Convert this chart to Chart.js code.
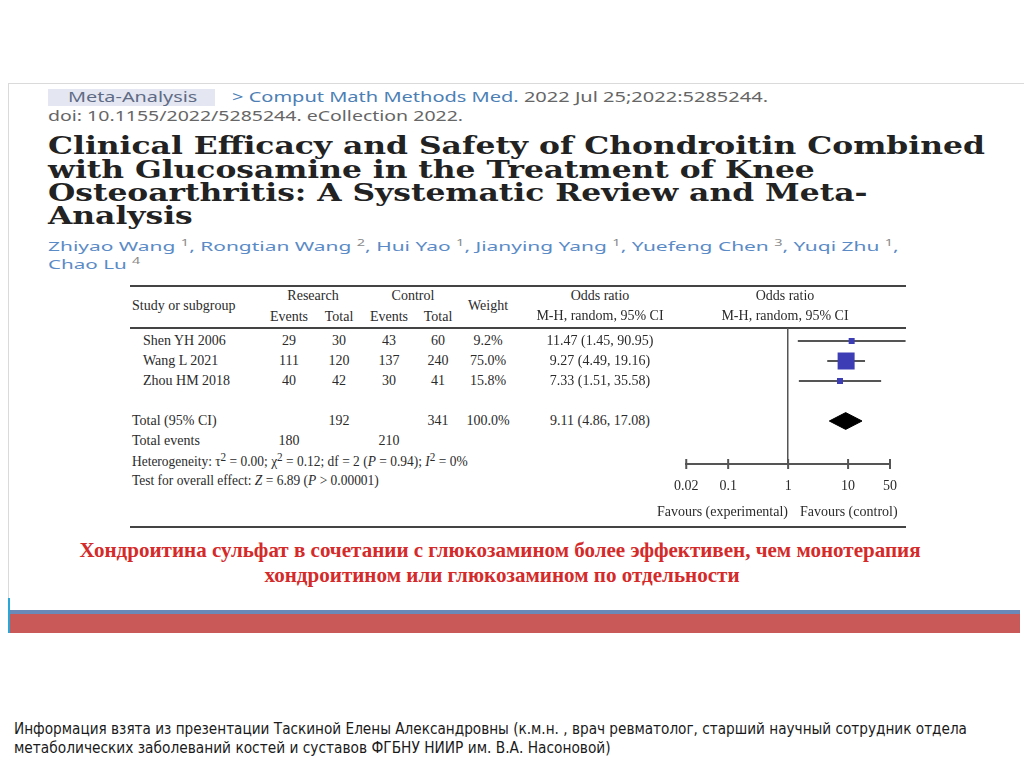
<!DOCTYPE html>
<html>
<head>
<meta charset="utf-8">
<script src="https://cdn.jsdelivr.net/npm/chart.js@4.4.1/dist/chart.umd.min.js"></script>
<style>
  body { margin: 0; width: 1024px; height: 767px; background: #fff; position: relative; overflow: hidden; }
  .t { position: absolute; white-space: nowrap; line-height: 1.2; }
  .tbl { font-family: "Liberation Serif", "Times New Roman", serif; font-size: 14px; color: #2b2b2b; }
  .rule { position: absolute; left: 130px; width: 776px; background: #444; }
  .sans { font-family: "Noto Sans", "Open Sans", sans-serif; font-size: 14px; }
  .title { font-family: "DejaVu Serif", serif; font-weight: bold; font-size: 24px; line-height: 0.85; color: #222; }
  .auth { color: #5b8bc6; font-size: 13px; }
  .auth sup { color: #8a8a8a; font-size: 9px; }
  .red { font-family: "Liberation Serif", serif; font-weight: bold; font-size: 22px; line-height: 1; color: #d42a2a; }
  .foot { font-family: "Liberation Sans Narrow", "DejaVu Sans Condensed", sans-serif; font-size: 16px; line-height: 1.1; color: #1a1a1a; }
  #wrap { position: absolute; left: 660px; top: 280px; width: 260px; height: 250px; }
</style>
</head>
<body>
<!-- slide frame and decorations -->
<div style="position:absolute;left:8px;top:83px;width:1016px;height:528px;border-top:1px solid #dadada;border-left:1px solid #dadada;"></div>
<div style="position:absolute;left:48px;top:89px;width:167px;height:17px;background:#e4e7f2;"></div>
<div style="position:absolute;left:10px;top:610px;width:1010px;height:4px;background:#6b89b8;"></div>
<div style="position:absolute;left:10px;top:614px;width:1010px;height:19px;background:#c95858;"></div>
<div style="position:absolute;left:8px;top:598px;width:2px;height:35px;background:#2aa7d9;"></div>

<div class="rule" style="top:285px;height:2px;"></div>
<div class="rule" style="top:327px;height:1.5px;"></div>
<div class="rule" style="top:526px;height:2px;"></div>

<div id="wrap"><canvas id="forest" width="260" height="250"></canvas></div>

<script>
// study data
const studies = ['Shen YH 2006', 'Wang L 2021', 'Zhou HM 2018'];
const resEvents = [29, 111, 40];
const resTotal = [30, 120, 42];
const ctrlEvents = [43, 137, 30];
const ctrlTotal = [60, 240, 41];
const weights = [9.2, 75.0, 15.8];
const orEst = [11.47, 9.27, 7.33];
const orLow = [1.45, 4.49, 1.51];
const orHigh = [90.95, 19.16, 35.58];
// pooled result: estimate, lower, upper
const pooled = [9.11, 4.86, 17.08];
const xTicks = [0.02, 0.1, 1, 10, 50];

const sum = a => a.reduce((s, v) => s + v, 0);
const ci = (e, l, h) => `${e.toFixed(2)} (${l.toFixed(2)}, ${h.toFixed(2)})`;

function put(html, x, y, cls, align) {
  const d = document.createElement('div');
  d.className = 't ' + cls;
  d.innerHTML = html;
  d.style.left = x + 'px';
  d.style.top = y + 'px';
  const tx = align === 'c' ? '-50%' : align === 'r' ? '-100%' : '0';
  d.style.transform = `translate(${tx}, -50%)`;
  d.style.transformOrigin = align === 'c' ? 'center' : 'left center';
  document.body.appendChild(d);
  return d;
}

// squeeze/stretch text to the width it has in the slide
function fit(el, w) {
  const nat = el.offsetWidth;
  el.style.transform += ` scaleX(${w / nat})`;
  return el;
}

// header of the slide
fit(put('Meta-Analysis', 68, 97, 'sans', 'l'), 129).style.color = '#5f6b85';
fit(put('<span style="color:#4d7fb5">&gt; Comput Math Methods Med.</span> <span style="color:#666">2022 Jul 25;2022:5285244.</span>', 232, 97, 'sans', 'l'), 536);
fit(put('doi: 10.1155/2022/5285244. eCollection 2022.', 48, 116, 'sans', 'l'), 415).style.color = '#666';

const titleLines = [
  ['Clinical Efficacy and Safety of Chondroitin Combined', 146, 937],
  ['with Glucosamine in the Treatment of Knee', 170, 767],
  ['Osteoarthritis: A Systematic Review and Meta-', 193, 820],
  ['Analysis', 216, 145]
];
titleLines.forEach(([s, y, w]) => fit(put(s, 48, y, 'title', 'l'), w));

fit(put('Zhiyao Wang <sup>1</sup>, Rongtian Wang <sup>2</sup>, Hui Yao <sup>1</sup>, Jianying Yang <sup>1</sup>, Yuefeng Chen <sup>3</sup>, Yuqi Zhu <sup>1</sup>,', 48, 246, 'sans auth', 'l'), 850);
fit(put('Chao Lu <sup>4</sup>', 48, 264, 'sans auth', 'l'), 92);

// table header
put('Study or subgroup', 132, 306, 'tbl', 'l');
put('Research', 313, 296, 'tbl', 'c');
put('Control', 413, 296, 'tbl', 'c');
put('Events', 289, 317, 'tbl', 'c');
put('Total', 339, 317, 'tbl', 'c');
put('Events', 389, 317, 'tbl', 'c');
put('Total', 438, 317, 'tbl', 'c');
put('Weight', 488, 306, 'tbl', 'c');
put('Odds ratio', 600, 296, 'tbl', 'c');
put('M-H, random, 95% CI', 600, 316, 'tbl', 'c');
put('Odds ratio', 785, 296, 'tbl', 'c');
put('M-H, random, 95% CI', 785, 316, 'tbl', 'c');

// table body, one row every 20px
const rowY = r => 321 + r * 20;
studies.forEach((s, i) => {
  const y = rowY(i + 1);
  put(s, 143, y, 'tbl', 'l');
  put(resEvents[i], 289, y, 'tbl', 'c');
  put(resTotal[i], 339, y, 'tbl', 'c');
  put(ctrlEvents[i], 389, y, 'tbl', 'c');
  put(ctrlTotal[i], 438, y, 'tbl', 'c');
  put(weights[i].toFixed(1) + '%', 488, y, 'tbl', 'c');
  put(ci(orEst[i], orLow[i], orHigh[i]), 600, y, 'tbl', 'c');
});
const totRow = studies.length + 2;
put('Total (95% CI)', 132, rowY(totRow), 'tbl', 'l');
put(sum(resTotal), 339, rowY(totRow), 'tbl', 'c');
put(sum(ctrlTotal), 438, rowY(totRow), 'tbl', 'c');
put(sum(weights).toFixed(1) + '%', 488, rowY(totRow), 'tbl', 'c');
put(ci(...pooled), 600, rowY(totRow), 'tbl', 'c');
put('Total events', 132, rowY(totRow + 1), 'tbl', 'l');
put(sum(resEvents), 289, rowY(totRow + 1), 'tbl', 'c');
put(sum(ctrlEvents), 389, rowY(totRow + 1), 'tbl', 'c');
fit(put('Heterogeneity: &tau;<sup>2</sup> = 0.00; &chi;<sup>2</sup> = 0.12; df = 2 (<i>P</i> = 0.94); <i>I</i><sup>2</sup> = 0%', 132, rowY(totRow + 2), 'tbl', 'l'), 336);
fit(put('Test for overall effect: <i>Z</i> = 6.89 (<i>P</i> &gt; 0.00001)', 132, rowY(totRow + 3), 'tbl', 'l'), 247);
put('Favours (experimental)', 788, 512, 'tbl', 'r');
put('Favours (control)', 800, 512, 'tbl', 'l');

// conclusion and source
fit(put('Хондроитина сульфат в сочетании с глюкозамином более эффективен, чем монотерапия', 500, 550, 'red', 'c'), 841);
fit(put('хондроитином или глюкозамином по отдельности', 502, 575, 'red', 'c'), 475);
fit(put('Информация взята из презентации Таскиной Елены Александровны (к.м.н. , врач ревматолог, старший научный сотрудник отдела', 14, 729, 'foot', 'l'), 953);
fit(put('метаболических заболеваний костей и суставов ФГБНУ НИИР им. В.А. Насоновой)', 14, 748, 'foot', 'l'), 597);

// forest plot
const yMin = 0.35, yMax = 7.15;
const py = totRow;
const boxSide = w => Math.max(6, 17 * w / 75);
const datasets = [
  {
    type: 'scatter',
    data: studies.map((s, i) => ({ x: orEst[i], y: i + 1 })),
    pointStyle: 'rect',
    pointRadius: weights.map(w => boxSide(w) / (2 * Math.SQRT1_2)),
    backgroundColor: '#3d3db5',
    borderWidth: 0,
    clip: false
  },
  {
    type: 'line',
    data: [
      { x: pooled[1], y: py }, { x: pooled[0], y: py - 0.42 },
      { x: pooled[2], y: py }, { x: pooled[0], y: py + 0.42 },
      { x: pooled[1], y: py }
    ],
    fill: 'shape',
    backgroundColor: '#000',
    borderColor: '#000',
    borderWidth: 1,
    pointRadius: 0,
    tension: 0
  },
  ...studies.map((s, i) => ({
    type: 'line',
    data: [{ x: orLow[i], y: i + 1 }, { x: orHigh[i], y: i + 1 }],
    borderColor: '#555',
    borderWidth: 2,
    pointRadius: 0,
    clip: false
  })),
  {
    type: 'scatter',
    data: xTicks.map(v => ({ x: v, y: yMax })),
    pointStyle: 'line',
    rotation: 90,
    pointRadius: 5,
    borderColor: '#555',
    borderWidth: 2,
    clip: false
  }
];

new Chart(document.getElementById('forest'), {
  type: 'scatter',
  data: { datasets },
  options: {
    responsive: false,
    animation: false,
    layout: { padding: { left: 21, right: 30, top: 48, bottom: 0 } },
    plugins: { legend: { display: false }, tooltip: { enabled: false } },
    scales: {
      x: {
        type: 'logarithmic',
        min: xTicks[0],
        max: xTicks[xTicks.length - 1],
        afterBuildTicks: s => { s.ticks = xTicks.map(v => ({ value: v })); },
        afterFit: s => { s.height = 66; },
        border: { display: true, color: '#555', width: 2 },
        grid: {
          drawTicks: false,
          lineWidth: 1.5,
          color: c => (c.tick && c.tick.value === 1 ? '#555' : 'rgba(0,0,0,0)')
        },
        ticks: {
          padding: 14,
          color: '#2b2b2b',
          maxRotation: 0,
          autoSkip: false,
          font: { family: '"Liberation Serif", serif', size: 14 },
          callback: v => String(v)
        }
      },
      y: { type: 'linear', min: yMin, max: yMax, reverse: true, display: false }
    }
  }
});
</script>
</body>
</html>
